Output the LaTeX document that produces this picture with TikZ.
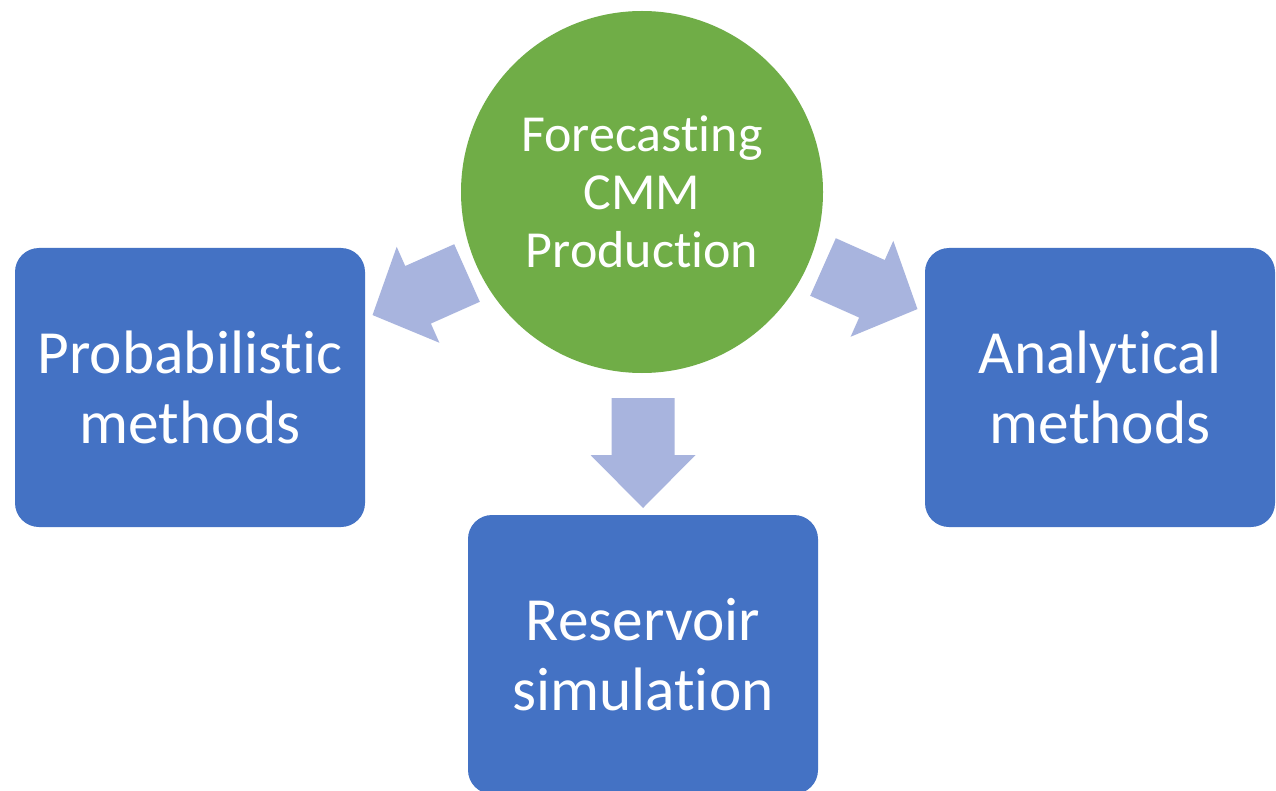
\documentclass[tikz,border=0pt]{standalone}
\usepackage{fontspec}
\setmainfont{Carlito}[Ligatures=NoCommon]
\definecolor{cgreen}{HTML}{70AD47}
\definecolor{cblue}{HTML}{4472C4}
\definecolor{carrow}{HTML}{A8B4DE}
\begin{document}
\begin{tikzpicture}[x=0.75pt,y=-0.75pt,
  box/.style={rectangle, rounded corners=18pt, fill=cblue, text=white,
    minimum width=262.5pt, minimum height=209.25pt, align=center,
    font=\fontsize{46}{53}\selectfont, inner sep=0pt},
  hub/.style={circle, fill=cgreen, text=white, minimum size=271.5pt,
    align=center, font=\fontsize{39}{43.5}\selectfont, inner sep=0pt},
  blockarrow/.pic={\fill[carrow] (0,-31.5) -- (57,-31.5) -- (57,-52.5) -- (110,0)
    -- (57,52.5) -- (57,31.5) -- (0,31.5) -- cycle;}]
\useasboundingbox (0,0) rectangle (1276,791);
\fill[white] (0,0) rectangle (1276,791);
\node[hub] (hub) at (642,192) {Forecasting\\CMM\\Production};
\node[box] (prob) at (190,387.5) {Probabilistic\\methods};
\node[box] (anal) at (1100,387.5) {Analytical\\methods};
\node[box] (res) at (643,654.5) {Reservoir\\simulation};
\pic[rotate=-90] at (643,398) {blockarrow};
\pic[rotate=204, xscale=0.94] at (467,273) {blockarrow};
\pic[rotate=-24, xscale=0.94] at (823,267) {blockarrow};
\end{tikzpicture}
\end{document}
